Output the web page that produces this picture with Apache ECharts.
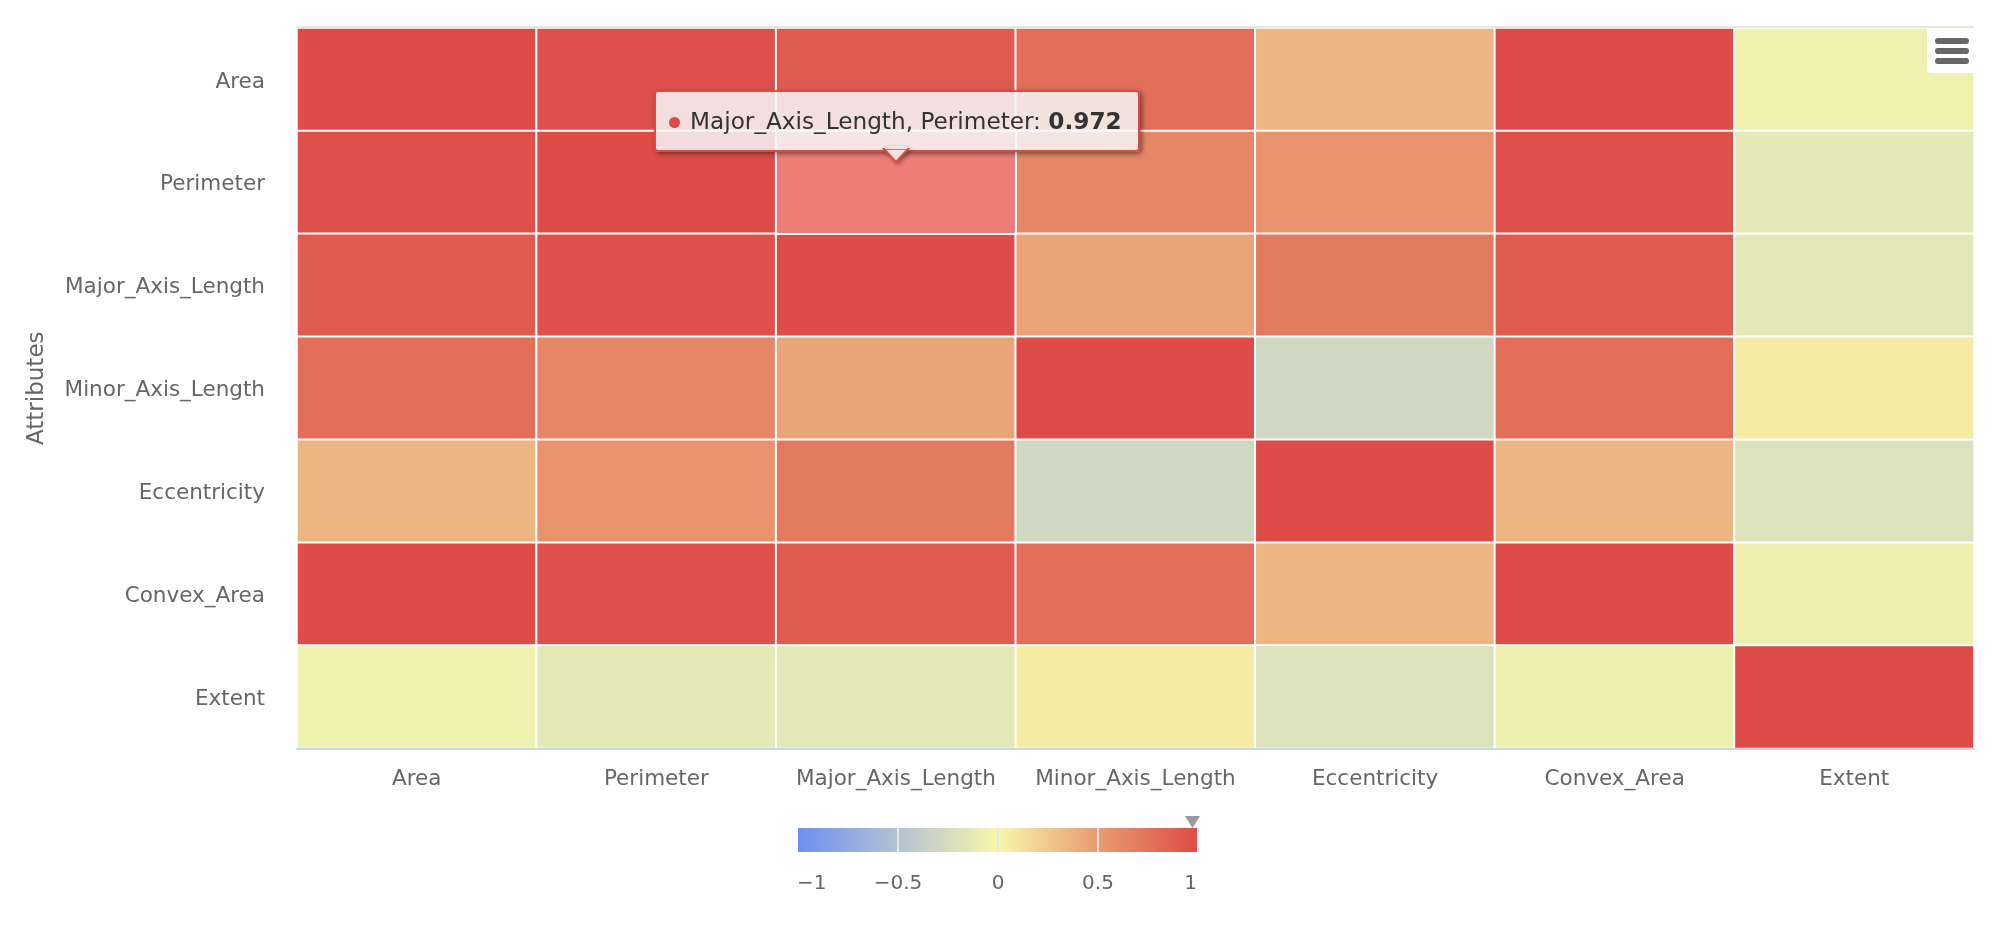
<!DOCTYPE html>
<html>
<head>
<meta charset="utf-8">
<style>html,body{margin:0;padding:0;background:#fff}#c{width:2000px;height:926px}</style>
<script src="https://cdn.jsdelivr.net/npm/echarts@6/dist/echarts.min.js"></script>
</head>
<body>
<div id="c"></div>
<script>
var attributes = ['Area','Perimeter','Major_Axis_Length','Minor_Axis_Length','Eccentricity','Convex_Area','Extent'];
var rowArea       = [1, 0.966, 0.903, 0.788, 0.352, 0.999, -0.061];
var rowPerimeter  = [0.966, 1, 0.972, 0.63, 0.544, 0.97, -0.131];
var rowMajor      = [0.903, 0.972, 1, 0.452, 0.711, 0.903, -0.14];
var rowMinor      = [0.788, 0.63, 0.452, 1, -0.292, 0.787, 0.063];
var rowEccentric  = [0.352, 0.544, 0.711, -0.292, 1, 0.353, -0.199];
var rowConvex     = [0.999, 0.97, 0.903, 0.787, 0.353, 1, -0.066];
var rowExtent     = [-0.061, -0.131, -0.14, 0.063, -0.199, -0.066, 1];
var rows = [rowArea,rowPerimeter,rowMajor,rowMinor,rowEccentric,rowConvex,rowExtent];
var legendTicks = [-1,-0.5,0,0.5,1];
var rampColors = ['#6f8ff2','#b4c2d4','#f7f7aa','#e89b72','#dd4c47'];
var hoveredX = 'Major_Axis_Length', hoveredY = 'Perimeter';

var FONT = '"DejaVu Sans", sans-serif';
var cells = [];
rows.forEach(function(r,y){ r.forEach(function(v,x){ cells.push([x,y,v]); }); });

var lgL = 798, lgW = 400, lgT = 828, lgH = 24;
var legendGraphics = [
  // square off the rounded ends of the colour bar
  {type:'rect',z:99,silent:true,shape:{x:lgL,y:lgT,width:4,height:4},style:{fill:rampColors[0]}},
  {type:'rect',z:99,silent:true,shape:{x:lgL,y:lgT+lgH-4,width:4,height:4},style:{fill:rampColors[0]}},
  {type:'rect',z:99,silent:true,shape:{x:lgL+lgW-4,y:lgT,width:4,height:4},style:{fill:rampColors[4]}},
  {type:'rect',z:99,silent:true,shape:{x:lgL+lgW-4,y:lgT+lgH-4,width:4,height:4},style:{fill:rampColors[4]}}
];
legendTicks.forEach(function(t,i){
  var px = lgL + (t+1)/2*lgW;
  if(i>0){
    legendGraphics.push({type:'rect',z:100,silent:true,shape:{x:px-1,y:lgT,width:2,height:lgH},style:{fill:'#e6e6e6'}});
  }
  legendGraphics.push({type:'text',z:100,silent:true,x:i===0?lgL-1:(i===legendTicks.length-1?px-1:px),y:883.5,
    style:{text:String(t).replace('-','\u2212'),font:'20px '+FONT,fill:'#666666',
      textAlign:i===0?'left':(i===legendTicks.length-1?'right':'center'),textVerticalAlign:'middle'}});
});
legendGraphics.push({type:'polygon',z:100,silent:true,shape:{points:[[1185,816],[1200,816],[1192.5,828]]},style:{fill:'#999999'}});

var menu = [
  {type:'line',z:90,silent:true,shape:{x1:297,y1:27,x2:1974,y2:27},style:{stroke:'#e6e6e6',lineWidth:2}},
  {type:'rect',z:100,silent:true,shape:{x:1927,y:29,width:47,height:44,r:[0,0,0,4]},style:{fill:'#ffffff'}},
  {type:'rect',z:101,silent:true,shape:{x:1935,y:38,width:34,height:6,r:3},style:{fill:'#666666'}},
  {type:'rect',z:101,silent:true,shape:{x:1935,y:48,width:34,height:6,r:3},style:{fill:'#666666'}},
  {type:'rect',z:101,silent:true,shape:{x:1935,y:58,width:34,height:6,r:3},style:{fill:'#666666'}}
];

var chart = echarts.init(document.getElementById('c'),null,{renderer:'canvas'});
chart.setOption({
  animation:false,
  backgroundColor:'#ffffff',
  grid:{left:297,top:28,width:1677,height:720.5,containLabel:false},
  xAxis:{type:'category',data:attributes,position:'bottom',z:3,
    axisLine:{show:true,lineStyle:{color:'#ccd6eb',width:2}},axisTick:{show:false},splitLine:{show:false},
    axisLabel:{color:'#666666',fontFamily:FONT,fontSize:21.5,margin:20,interval:0}},
  yAxis:{type:'category',data:attributes,inverse:true,
    name:'Attributes',nameLocation:'middle',nameGap:248,nameRotate:90,
    nameTextStyle:{color:'#666666',fontFamily:FONT,fontSize:23},
    axisLine:{show:false},axisTick:{show:false},splitLine:{show:false},
    axisLabel:{color:'#666666',fontFamily:FONT,fontSize:21.5,margin:32,interval:0,
      formatter:function(v){return '{a|'+v+'}';},
      rich:{a:{color:'#666666',fontFamily:FONT,fontSize:21.5,padding:[5,0,0,0]}}}},
  visualMap:{type:'continuous',min:-1,max:1,orient:'horizontal',calculable:false,realtime:false,
    left:lgL,top:lgT,itemWidth:lgH,itemHeight:lgW,padding:0,text:null,showLabel:false,
    textStyle:{fontSize:0},
    inRange:{color:rampColors}},
  tooltip:{show:true,trigger:'item',renderMode:'html',confine:false,transitionDuration:0,showDelay:0,hideDelay:100000,
    backgroundColor:'rgba(247,247,247,0.85)',borderColor:'#dc4a45',borderWidth:2,borderRadius:4,padding:[0,0,0,0],
    extraCssText:'box-shadow:2px 2px 5px rgba(0,0,0,0.45);overflow:visible;',
    textStyle:{color:'#333333',fontFamily:FONT,fontSize:23.2},
    position:function(pt,params,dom,rect,size){
      var p = chart.convertToPixel({seriesIndex:0},[hoveredX,hoveredY]);
      return [p[0]-size.contentSize[0]/2+1, p[1]-92];
    },
    formatter:function(p){
      var xn = attributes[p.value[0]], yn = attributes[p.value[1]];
      return '<div style="position:relative;box-sizing:border-box;height:58px;line-height:58px;padding:0 16px 0 13px;white-space:nowrap">'
        +'<span style="display:inline-block;width:11px;height:11px;border-radius:6px;background:#dc4a45;margin-right:10px;vertical-align:1px"></span>'
        +xn+', '+yn+': <b>'+p.value[2]+'</b>'
        +'<svg width="30" height="17" style="position:absolute;left:50%;bottom:-15px;margin-left:-16px;overflow:visible;filter:drop-shadow(2px 2px 2px rgba(0,0,0,0.35))"><polygon points="3,1 15,14 27,1" fill="#f3e2e1" stroke="#dc4a45" stroke-width="2"/><rect x="4" y="-2" width="22" height="3.2" fill="#f3e2e1"/></svg>'
        +'</div>';
    }},
  series:[{type:'heatmap',data:cells,progressive:0,
    itemStyle:{borderColor:'#ffffff',borderWidth:2},
    emphasis:{itemStyle:{color:'#ee7d78',borderColor:'#ffffff',borderWidth:2}}}],
  graphic:{elements:menu.concat(legendGraphics)}
});
var hi = attributes.indexOf(hoveredY)*attributes.length + attributes.indexOf(hoveredX);
chart.dispatchAction({type:'highlight',seriesIndex:0,dataIndex:hi});
chart.dispatchAction({type:'showTip',seriesIndex:0,dataIndex:hi});
</script>
</body>
</html>
